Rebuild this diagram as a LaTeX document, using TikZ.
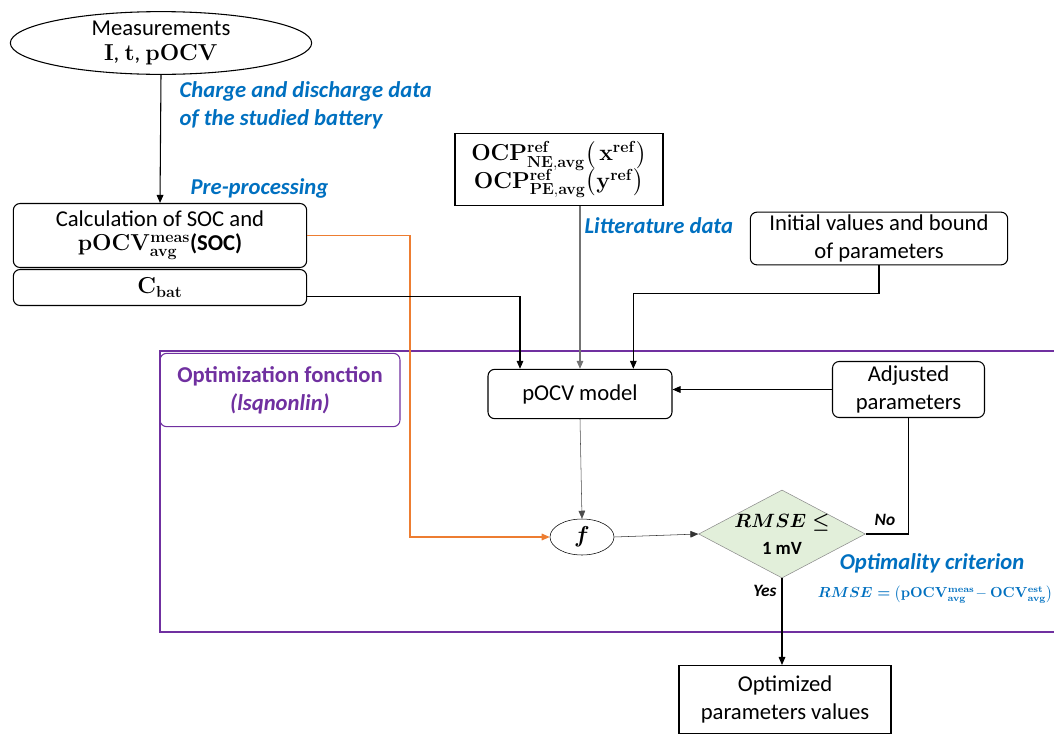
\documentclass[tikz,border=0pt]{standalone}
\usepackage{amsmath, amssymb}
\usepackage[no-math]{fontspec}
\setmainfont{Carlito}
\usetikzlibrary{positioning,shapes.geometric,arrows.meta}

\definecolor{labelblue}{HTML}{0070C0}
\definecolor{optpurple}{HTML}{7030A0}
\definecolor{feedorange}{HTML}{ED7D31}
\definecolor{critgreen}{HTML}{E2EFDA}

\begin{document}
\begin{tikzpicture}[x=0.75pt, y=-0.75pt,
		font=\fontsize{17}{21}\selectfont,
		block/.style={rectangle, rounded corners=5pt, draw=black, thick, align=center, inner sep=2pt},
		sqblock/.style={rectangle, draw=black, thick, align=center, inner sep=2pt},
		extra/.style={ellipse, draw=black, thick, align=center, inner sep=0pt},
		crit/.style={diamond, draw=black!45, fill=critgreen, thin, inner sep=0pt},
		note/.style={text=labelblue, font=\fontsize{17}{21}\selectfont\bfseries\itshape, align=left, inner sep=1pt},
		arr/.style={-{Triangle[length=6pt, width=5pt]}},
		]
		\useasboundingbox (0,0) rectangle (1054,736);

		%Main Nodes
		\node[extra, minimum width=226pt, minimum height=46pt]	(meas)	at (161,43)	{Measurements\\[-2pt] $\mathbf{I}$, $\mathbf{t}$, $\mathbf{pOCV}$};
		\node[block, minimum width=220pt, minimum height=48pt]	(calc)	at (160,235.5)	{Calculation of SOC and\\[-3pt] $\mathbf{pOCV^{meas}_{avg}}$\textbf{(SOC)}};
		\node[block, minimum width=220pt, minimum height=27pt]	(cbat)	at (160,287.5)	{$\mathbf{C_{bat}}$};
		\node[sqblock, minimum width=156pt, minimum height=54pt]	(ocp)	at (559,169.5)	{$\mathbf{OCP^{ref}_{NE,avg}\big(\,x^{ref}\big)}$\\[-2pt] $\mathbf{OCP^{ref}_{PE,avg}\big(y^{ref}\big)}$};
		\node[block, minimum width=193pt, minimum height=39pt]	(init)	at (879,238.5)	{Initial values and bound\\ of parameters};

		%Optimization
		\node[block, draw=optpurple, minimum width=180pt, minimum height=55pt, text=optpurple, font=\fontsize{17}{21}\selectfont\bfseries]	(optfn)	at (280,390)	{Optimization fonction\\ \textit{(lsqnonlin)}};
		\node[block, minimum width=138pt, minimum height=37pt]	(pocv)	at (580,394)	{pOCV model};
		\node[block, minimum width=114pt, minimum height=42pt]	(adj)	at (908.5,389.5)	{Adjusted\\ parameters};
		\node[extra, thin, minimum width=48pt, minimum height=27pt]	(f)	at (582,537)	{$\boldsymbol{f}$};
		\node[crit, minimum width=125pt, minimum height=66pt,
			label={[align=center, font=\fontsize{14}{20}\selectfont]center:$\boldsymbol{RMSE\leq}$\\ \textbf{1 mV}}]	(rmse)	at (782,534)	{};
		\node[sqblock, minimum width=159pt, minimum height=51pt]	(opt)	at (785,699.5)	{Optimized\\ parameters values};

		%Frame
		\draw[optpurple, line width=2.2pt] (1054,351) -| (160,632) -- (1054,632);

		%Labels
		\node[note, anchor=north west]	(chg)	at (178,80)	{Charge and discharge data\\ of the studied battery};
		\node[note, anchor=west]	(pre)	at (189,188)	{Pre-processing};
		\node[note, anchor=west]	(lit)	at (583,226)	{Litterature data};
		\node[font=\fontsize{13}{15}\selectfont\bfseries\itshape, inner sep=1pt]	(no)	at (885,520)	{No};
		\node[font=\fontsize{13}{15}\selectfont\bfseries\itshape, inner sep=1pt]	(yes)	at (765,591)	{Yes};
		\node[note, inner sep=0pt]	(optcrit)	at (932,563)	{Optimality criterion};
		\node[text=labelblue, font=\fontsize{10.5}{12}\selectfont, anchor=east, inner sep=0pt]	(formula)	at (1053,594)	{$\boldsymbol{RMSE=}\big(\mathbf{pOCV^{meas}_{avg}}\!-\mathbf{OCV^{est}_{avg}}\big)$};

		%Main Lines
		\draw[arr, thick]	(meas.south)	--	(calc.north);
		\draw[feedorange, thick, -{Triangle[length=6pt, width=5pt]}]	(calc.east)	-| (410,537)	--	(f.west);
		\draw[arr, thick]	([yshift=-7pt]cbat.east)	-|	([xshift=-45pt]pocv.north);
		\draw[arr, black!55, thick]	(ocp.south -| pocv.north)	--	(pocv.north);
		\draw[arr, thick]	(init.south)	--	++(0,28)	-|	([xshift=40pt]pocv.north);
		\draw[arr, thick]	(adj.west)	--	(adj.west -| pocv.east);
		\draw[arr, black!70]	(pocv.south)	--	(f.north);
		\draw[arr, black!80]	(f.east)	--	(rmse.west);
		\draw[thick]	(rmse.east)	-|	(adj.south);
		\draw[arr, thick]	(rmse.south)	--	(rmse.south |- opt.north);

	\end{tikzpicture}
\end{document}
